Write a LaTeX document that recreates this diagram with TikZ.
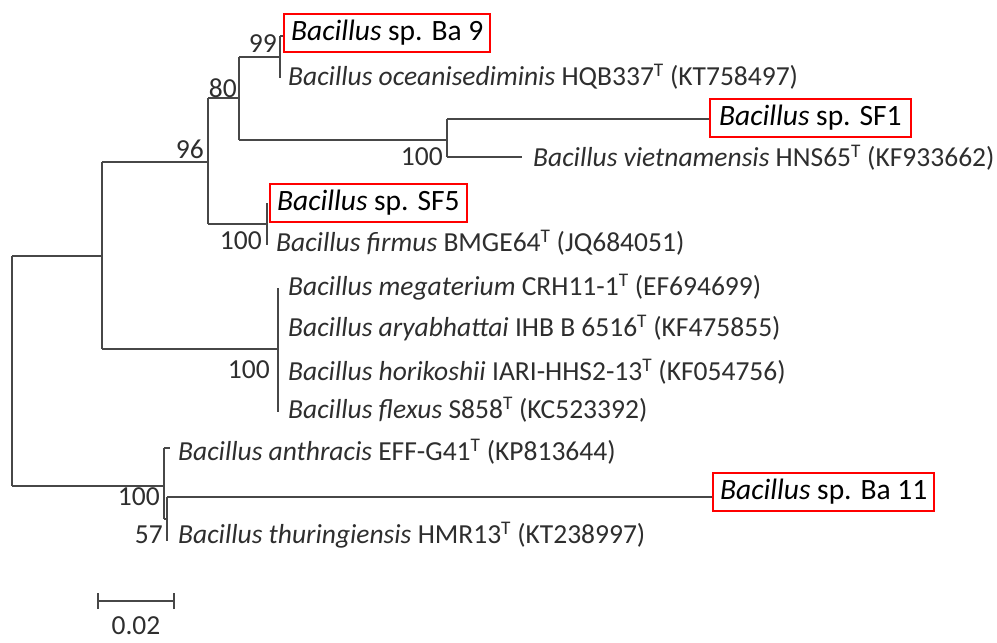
\documentclass[tikz,border=0pt]{standalone}
\usepackage{fontspec}
\setmainfont{Carlito}
\begin{document}
\begin{tikzpicture}[x=1pt,y=-1pt,
  br/.style={draw=black!72,line width=1.1pt},
  leaf/.style={anchor=west,inner sep=0pt,text=black!82,font=\fontsize{27.5}{31}\selectfont},
  boxed/.style={anchor=west,draw=red,line width=2.2pt,inner xsep=7pt,inner ysep=0pt,minimum height=38pt,text=black,font=\fontsize{29.5}{33}\selectfont},
  boot/.style={anchor=east,inner sep=0pt,text=black!82,font=\fontsize{27.5}{31}\selectfont}]
\useasboundingbox (0,0) rectangle (997,643);
% internal node ends
\coordinate (r1) at (12,256); \coordinate (r2) at (12,486);
\coordinate (a1) at (102,162); \coordinate (a2) at (102,349); \coordinate (ar) at (102,256);
\coordinate (b1) at (208,98); \coordinate (b2) at (208,224); \coordinate (bl) at (208,162);
\coordinate (c1) at (239,57); \coordinate (c2) at (239,140); \coordinate (cl) at (239,98);
\coordinate (d1) at (280,36); \coordinate (d2) at (280,78); \coordinate (dl) at (280,57);
\coordinate (e1) at (447,119); \coordinate (e2) at (447,157); \coordinate (el) at (447,140);
\coordinate (f1) at (267,203); \coordinate (f2) at (267,245); \coordinate (fl) at (267,224);
\coordinate (g1) at (278,288); \coordinate (g2) at (278,412); \coordinate (gl) at (278,349);
\coordinate (h1) at (164,448); \coordinate (h2) at (164,519); \coordinate (hl) at (164,486);
\coordinate (k1) at (167,497); \coordinate (k2) at (167,541); \coordinate (kl) at (167,519);
% leaves
\node[boxed] (ba9) at (283,33) {\textit{Bacillus} sp. Ba 9};
\node[leaf] (oce) at (288,77) {\textit{Bacillus oceanisediminis} HQB337\textsuperscript{T} (KT758497)};
\node[boxed,inner xsep=9pt] (sf1) at (709,118) {\textit{Bacillus} sp. SF1};
\node[leaf] (vie) at (533,158) {\textit{Bacillus vietnamensis} HNS65\textsuperscript{T} (KF933662)};
\node[boxed] (sf5) at (269,203) {\textit{Bacillus} sp. SF5};
\node[leaf] (fir) at (276,243) {\textit{Bacillus firmus} BMGE64\textsuperscript{T} (JQ684051)};
\node[leaf] (meg) at (288,287) {\textit{Bacillus megaterium} CRH11-1\textsuperscript{T} (EF694699)};
\node[leaf] (ary) at (288,328) {\textit{Bacillus aryabhattai} IHB B 6516\textsuperscript{T} (KF475855)};
\node[leaf] (hor) at (288,372) {\textit{Bacillus horikoshii} IARI-HHS2-13\textsuperscript{T} (KF054756)};
\node[leaf] (fle) at (288,410) {\textit{Bacillus flexus} S858\textsuperscript{T} (KC523392)};
\node[leaf] (ant) at (178,452) {\textit{Bacillus anthracis} EFF-G41\textsuperscript{T} (KP813644)};
\node[boxed] (ba11) at (712,492) {\textit{Bacillus} sp. Ba 11};
\node[leaf] (thu) at (178,535) {\textit{Bacillus thuringiensis} HMR13\textsuperscript{T} (KT238997)};
\coordinate (ba9e) at (283,36);
\coordinate (sf1e) at (709,119);
\coordinate (viee) at (522,157);
\coordinate (ante) at (170,448);
\coordinate (ba11e) at (712,497);
% branches
\draw[br] (r1) -- (r2);
\draw[br] (r1) -- (ar);
\draw[br] (a1) -- (a2);
\draw[br] (a1) -- (bl);
\draw[br] (b1) -- (b2);
\draw[br] (b1) -- (cl);
\draw[br] (c1) -- (c2);
\draw[br] (c1) -- (dl);
\draw[br] (d1) -- (d2);
\draw[br] (d1) -- (ba9e);
\draw[br] (c2) -- (el);
\draw[br] (e1) -- (e2);
\draw[br] (e1) -- (sf1e);
\draw[br] (e2) -- (viee);
\draw[br] (b2) -- (fl);
\draw[br] (f1) -- (f2);
\draw[br] (a2) -- (gl);
\draw[br] (g1) -- (g2);
\draw[br] (r2) -- (hl);
\draw[br] (h1) -- (h2);
\draw[br] (h1) -- (ante);
\draw[br] (h2) -- (kl);
\draw[br] (k1) -- (k2);
\draw[br] (k1) -- (ba11e);
% bootstrap values
\node[boot] (l99) at (277,44) {99};
\node[boot] (l80) at (237,88) {80};
\node[boot] (l96) at (204,149) {96};
\node[boot] (l100e) at (443,157) {100};
\node[boot] (l100f) at (262,241) {100};
\node[boot] (l100g) at (270,370) {100};
\node[boot] (l100h) at (160,497) {100};
\node[boot] (l57) at (163,535) {57};
% scale bar
\coordinate (s1) at (98,601); \coordinate (s2) at (174,601);
\draw[br] (s1) -- (s2);
\draw[br] ([yshift=-8pt]s1) -- ([yshift=8pt]s1);
\draw[br] ([yshift=-8pt]s2) -- ([yshift=8pt]s2);
\node[inner sep=0pt,text=black!82,font=\fontsize{27.5}{31}\selectfont] (sl) at (136,626) {0.02};
\end{tikzpicture}
\end{document}
